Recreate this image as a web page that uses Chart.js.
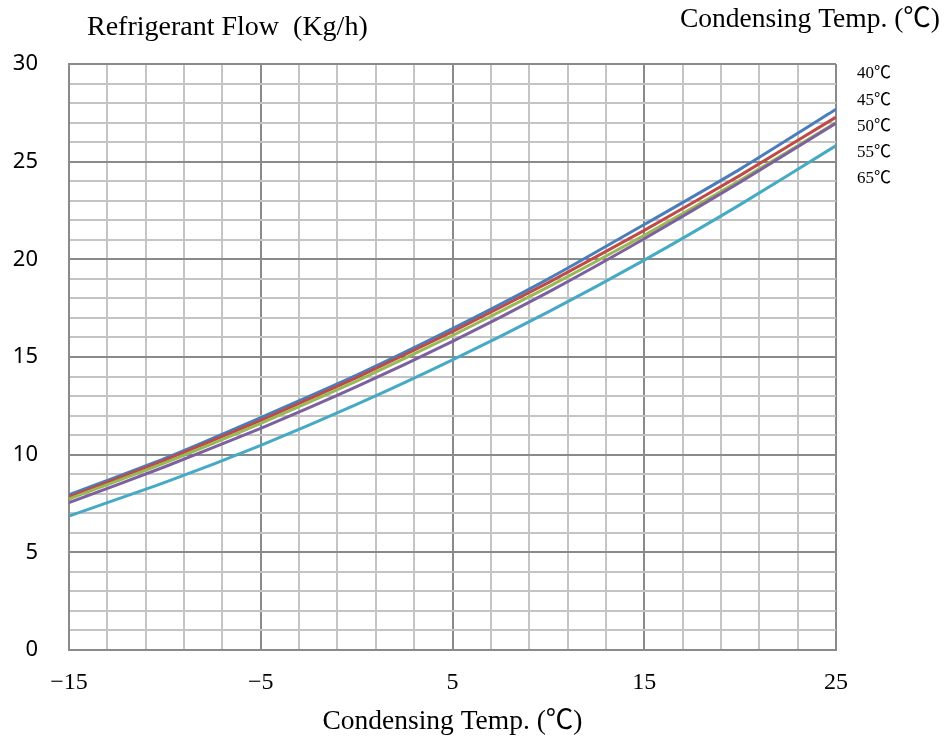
<!DOCTYPE html>
<html>
<head>
<meta charset="utf-8">
<script src="https://cdn.jsdelivr.net/npm/chart.js@4.4.1/dist/chart.umd.min.js"></script>
<style>
html, body { margin: 0; padding: 0; background: #fff; }
</style>
</head>
<body>
<canvas id="flowChart" width="947" height="742"></canvas>
<script>
"use strict";
// condensing temperature (x) and refrigerant flow per curve (y, Kg/h)
var condTemps = [-15, -10, -5, 0, 5, 10, 15, 20, 25];
var flow40 = [7.94, 9.81, 11.9, 14.07, 16.45, 19.0, 21.78, 24.62, 27.68];
var flow45 = [7.84, 9.72, 11.76, 13.95, 16.3, 18.81, 21.48, 24.3, 27.28];
var flow50 = [7.73, 9.58, 11.6, 13.77, 16.1, 18.59, 21.23, 24.04, 27.0];
var flow55 = [7.54, 9.38, 11.35, 13.48, 15.8, 18.32, 21.05, 23.95, 26.97];
var flow65 = [6.86, 8.58, 10.48, 12.57, 14.85, 17.31, 19.96, 22.8, 25.82];
var seriesLabels = ["40℃", "45℃", "50℃", "55℃", "65℃"];
var seriesColors = ["#4a7ebb", "#be4b48", "#98b954", "#7d60a0", "#46aac5"];

// grid lines and tick labels
var xGridValues = [-15, -13, -11, -9, -7, -5, -3, -1, 1, 3, 5, 7, 9, 11, 13, 15, 17, 19, 21, 23, 25];
var xLabelValues = [-15, -5, 5, 15, 25];
var yGridValues = [0, 1, 2, 3, 4, 5, 6, 7, 8, 9, 10, 11, 12, 13, 14, 15, 16, 17, 18, 19, 20, 21, 22, 23, 24, 25, 26, 27, 28, 29, 30];
var yLabelValues = [0, 5, 10, 15, 20, 25, 30];

var yTitle = "Refrigerant Flow\u00a0\u00a0(Kg/h)";
var xTitle = "Condensing Temp. (℃)";
var legendTitle = "Condensing Temp. (℃)";

var serifFont = "'Liberation Serif', 'Times New Roman', 'Noto Sans CJK SC', serif";
var majorGrid = "#8a8a8a", minorGrid = "#c4c4c4";

function toPoints(values) {
    return condTemps.map(function(x, i) { return { x: x, y: values[i] }; });
}

var allFlows = [flow40, flow45, flow50, flow55, flow65];
var chartDatasets = allFlows.map(function(values, i) {
    return {
        label: seriesLabels[i],
        data: toPoints(values),
        borderColor: seriesColors[i],
        backgroundColor: seriesColors[i],
        borderWidth: 3,
        pointRadius: 0,
        tension: 0.2,
        fill: false,
        order: allFlows.length - i
    };
});

// titles and the text-only legend on the right
var textPlugin = {
    id: "chartTexts",
    afterDraw: function(chart) {
        var ctx = chart.ctx, area = chart.chartArea;
        ctx.save();
        ctx.fillStyle = "#000";
        ctx.textBaseline = "middle";
        ctx.font = "28px " + serifFont;
        ctx.textAlign = "left";
        ctx.fillText(yTitle, 87, 28);
        ctx.font = "27.5px " + serifFont;
        ctx.textAlign = "right";
        ctx.fillText(legendTitle, 940, 20);
        ctx.textAlign = "center";
        ctx.fillText(xTitle, (area.left + area.right) / 2, 722);
        ctx.font = "17px " + serifFont;
        ctx.textAlign = "left";
        chart.data.datasets.forEach(function(ds, i) {
            ctx.fillText(ds.label, 857, 74 + i * 26.2);
        });
        ctx.restore();
    }
};

new Chart(document.getElementById("flowChart").getContext("2d"), {
    type: "line",
    data: { datasets: chartDatasets },
    plugins: [textPlugin],
    options: {
        responsive: false,
        animation: false,
        devicePixelRatio: 1,
        layout: { padding: { top: 64, right: 111, bottom: 0, left: 0 } },
        plugins: {
            legend: { display: false },
            tooltip: { enabled: false }
        },
        scales: {
            x: {
                type: "linear",
                min: -15,
                max: 25,
                afterBuildTicks: function(scale) {
                    scale.ticks = xGridValues.map(function(v) { return { value: v }; });
                },
                afterFit: function(scale) { scale.height = 92; },
                grid: {
                    drawTicks: false,
                    lineWidth: 2,
                    color: function(c) {
                        return c.tick && xLabelValues.indexOf(c.tick.value) >= 0 ? majorGrid : minorGrid;
                    }
                },
                border: { color: majorGrid, width: 2 },
                ticks: {
                    autoSkip: false,
                    maxRotation: 0,
                    padding: 18,
                    color: "#000",
                    font: { family: serifFont, size: 24 },
                    callback: function(v) {
                        if (xLabelValues.indexOf(v) < 0) return "";
                        return v < 0 ? "\u2212" + Math.abs(v) : String(v);
                    }
                }
            },
            y: {
                min: 0,
                max: 30,
                afterBuildTicks: function(scale) {
                    scale.ticks = yGridValues.map(function(v) { return { value: v }; });
                },
                afterFit: function(scale) { scale.width = 69; },
                grid: {
                    drawTicks: false,
                    lineWidth: 2,
                    color: function(c) {
                        return c.tick && yLabelValues.indexOf(c.tick.value) >= 0 ? majorGrid : minorGrid;
                    }
                },
                border: { color: majorGrid, width: 2 },
                ticks: {
                    autoSkip: false,
                    padding: 31,
                    color: "#000",
                    font: { family: "'Noto Sans', 'Open Sans', sans-serif", size: 22 },
                    callback: function(v) {
                        return yLabelValues.indexOf(v) >= 0 ? String(v) : "";
                    }
                }
            }
        }
    }
});
</script>
</body>
</html>
